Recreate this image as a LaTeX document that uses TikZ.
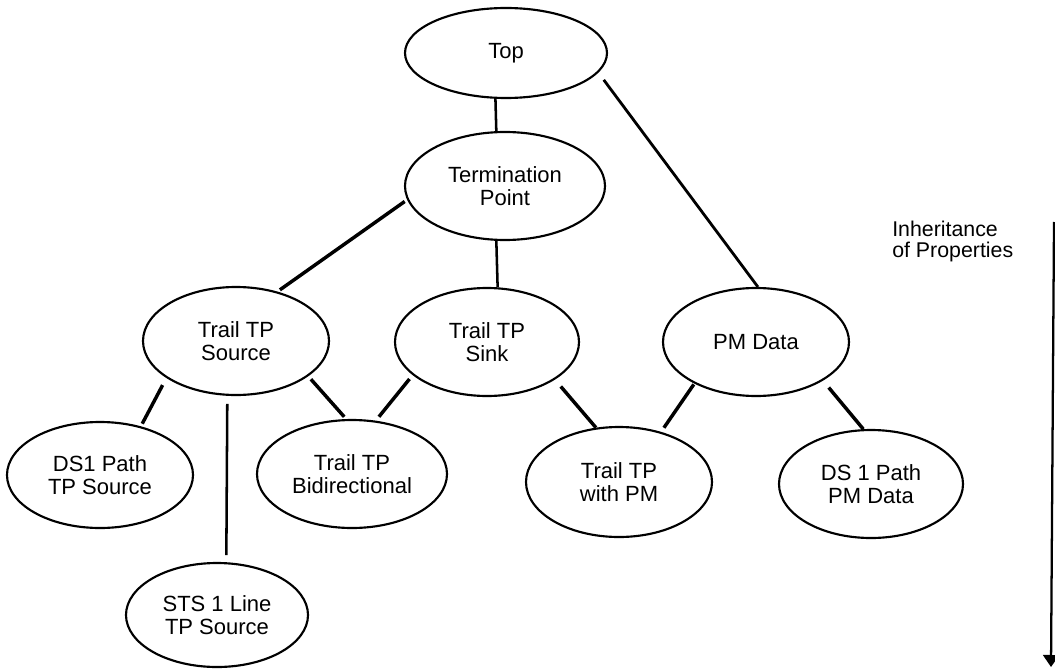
\documentclass[tikz,border=0pt]{standalone}
\usepackage{fontspec}
\setmainfont{Liberation Sans}
\usetikzlibrary{shapes.geometric,arrows.meta}
\begin{document}
\begin{tikzpicture}[x=0.75pt,y=-0.75pt,
  cls/.style={ellipse,draw,line width=1.6pt,inner sep=0pt,
    minimum width=139.5pt,minimum height=81pt,align=center,
    font=\fontsize{16.5}{17.5}\selectfont},
  link/.style={line width=2.6pt},
  vlink/.style={line width=1.9pt}]

\useasboundingbox (0,0) rectangle (1055,670);

% class hierarchy
\node[cls,minimum width=151.5pt,minimum height=67.5pt] (top) at (506,53) {Top};
\node[cls,minimum width=150pt] (tp) at (505,186) {Termination\\Point};
\node[cls] (src) at (236,341) {Trail TP\\Source};
\node[cls,minimum width=138pt] (sink) at (487,342) {Trail TP\\Sink};
\node[cls] (pm) at (756,342) {PM Data};
\node[cls,minimum height=79.5pt] (ds1) at (100,475) {DS1 Path\\TP Source};
\node[cls,minimum width=142.5pt] (bid) at (352,474) {Trail TP\\Bidirectional};
\node[cls,minimum width=136.5pt,minimum height=78pt] (sts) at (217,615) {STS 1 Line\\TP Source};
\node[cls,minimum height=82.5pt] (twpm) at (619,482) {Trail TP\\with PM};
\node[cls,minimum width=138pt] (dspm) at (871,484) {DS 1 Path\\PM Data};

% inheritance links
\draw[vlink] (top.257.5) -- (tp.99.5);
\draw[link,line width=2.1pt,shorten <=6.75pt] (top.348.8) -- (pm.88.9);
\draw[link,shorten <=2.25pt,shorten >=2.25pt] (tp.188) -- (src.50.5);
\draw[vlink] (tp.261.6) -- (sink.79.1);
\draw[link,shorten <=6pt,shorten >=2.25pt] (src.208.7) -- (ds1.50);
\draw[vlink,shorten <=6pt,shorten >=5.25pt] (src.261.7) -- (sts.80.4);
\draw[link,shorten <=3pt,shorten >=2.25pt] (src.334.4) -- (bid.96);
\draw[link,shorten <=3.75pt,shorten >=3.75pt] (sink.204.4) -- (bid.66.3);
\draw[link,shorten <=6.75pt] (sink.331.7) -- (twpm.113.5);
\draw[link,shorten <=0.75pt,shorten >=3.75pt] (pm.214.5) -- (twpm.50.3);
\draw[link,shorten <=6.75pt] (pm.330.4) -- (dspm.98.4);

% direction of inheritance
\node[anchor=north west,inner sep=0pt,align=left,
  font=\fontsize{16}{15.5}\selectfont] (inh) at (892,221) {Inheritance\\of Properties};
\coordinate (flowtop) at (1054,222);
\coordinate (flowend) at (1051,667);
\draw[line width=1.7pt,-{Triangle[width=12pt,length=9pt]}] (flowtop) -- (flowend);

\end{tikzpicture}
\end{document}
